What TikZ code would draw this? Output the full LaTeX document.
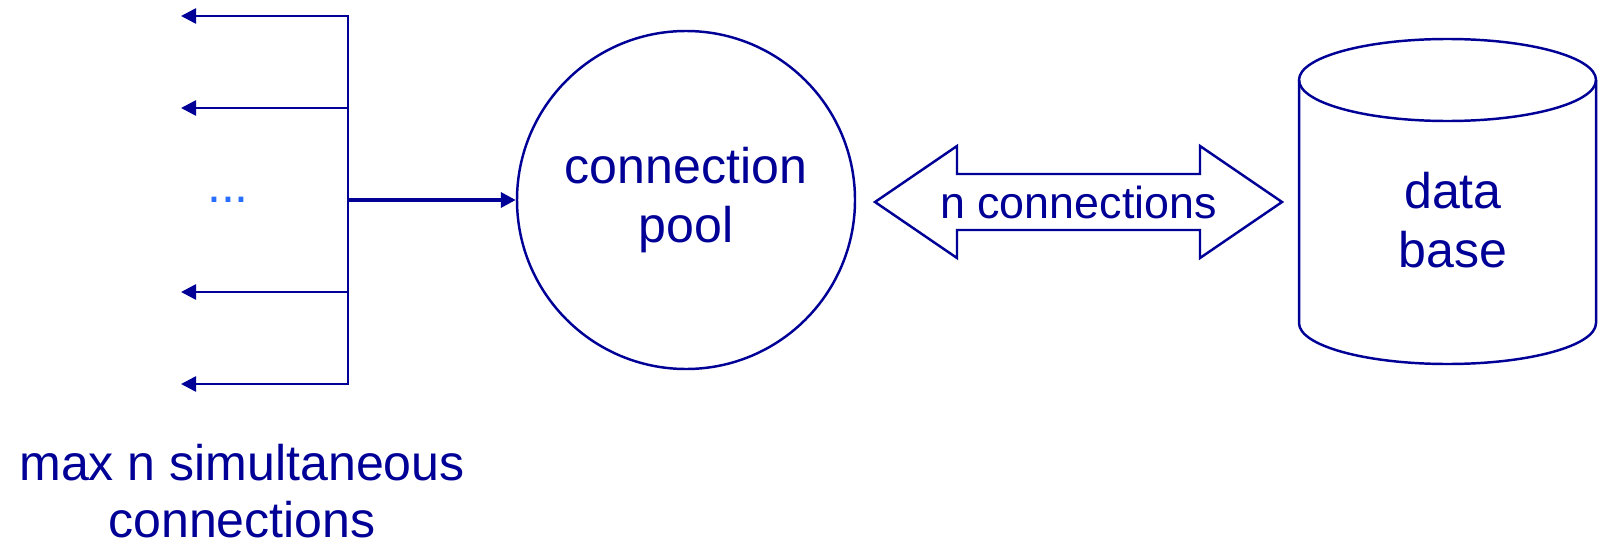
\documentclass[tikz,border=0pt]{standalone}
\usepackage{fontspec}
\setmainfont{Liberation Sans}
\usetikzlibrary{arrows.meta, positioning}
\definecolor{navy}{RGB}{0,0,150}
\definecolor{dotblue}{RGB}{40,110,255}
\tikzset{
  wire/.style={navy, line width=1.5pt},
  outline/.style={navy, line width=1.4pt},
  tiphead/.style={-{Triangle[length=0.3cm,width=0.3cm]}},
  txt/.style={text=navy, align=center, font=\fontsize{28.5}{34}\selectfont}
}

\begin{document}
\begin{tikzpicture}
    \useasboundingbox (0,0) rectangle (31.96,10.9);

    % Connection pool (circle in the middle)
    \node[txt, circle, draw=navy, line width=1.4pt, minimum size=6.76cm] (pool) at (13.72,6.9) {connection\\pool};

    % Bus on the left, one end per client
    \foreach \y/\n in {10.58/1, 8.74/2, 5.06/3, 3.22/4} {
        \coordinate (b\n) at (6.96,\y);
        \coordinate (c\n) at (3.62,\y);
    }
    \coordinate (bmid) at (6.96,6.9);
    \draw[wire, {Triangle[length=0.3cm,width=0.3cm]}-{Triangle[length=0.3cm,width=0.3cm]}] (c1) -- (b1) -- (b4) -- (c4); % outer branches
    \draw[wire, tiphead] (b2) -- (c2);
    \draw[wire, tiphead] (b3) -- (c3);
    \node[text=dotblue, font=\fontsize{28.5}{34}\selectfont] (dots) at (4.56,6.9) {...};

    % Request arrow into the pool
    \draw[wire, tiphead, line width=2pt] (bmid) -- (pool.west);

    % Double arrow between pool and data base
    \node[txt, font=\fontsize{25.5}{30}\selectfont] (nconn) at (21.57,6.86) {n connections};
    \draw[outline] ([xshift=-4.07cm]nconn.center) -- ++(1.64,1.12) -- ++(0,-0.56) -- ++(4.86,0) -- ++(0,0.56)
        -- ++(1.64,-1.12) -- ++(-1.64,-1.12) -- ++(0,0.56) -- ++(-4.86,0) -- ++(0,-0.56) -- cycle;

    % Data base (cylinder)
    \node[txt] (db) at (29.06,6.5) {data\\base};
    \draw[outline] (28.95,9.3) ellipse (2.97 and 0.82); % top
    \draw[outline] (25.98,9.3) -- (25.98,4.44) arc (180:360:2.97 and 0.82) -- (31.92,9.3); % body

    % Caption under the bus
    \node[txt, font=\fontsize{28.5}{32}\selectfont] (maxn) at (4.84,1.08) {max n simultaneous\\connections};
\end{tikzpicture}
\end{document}
